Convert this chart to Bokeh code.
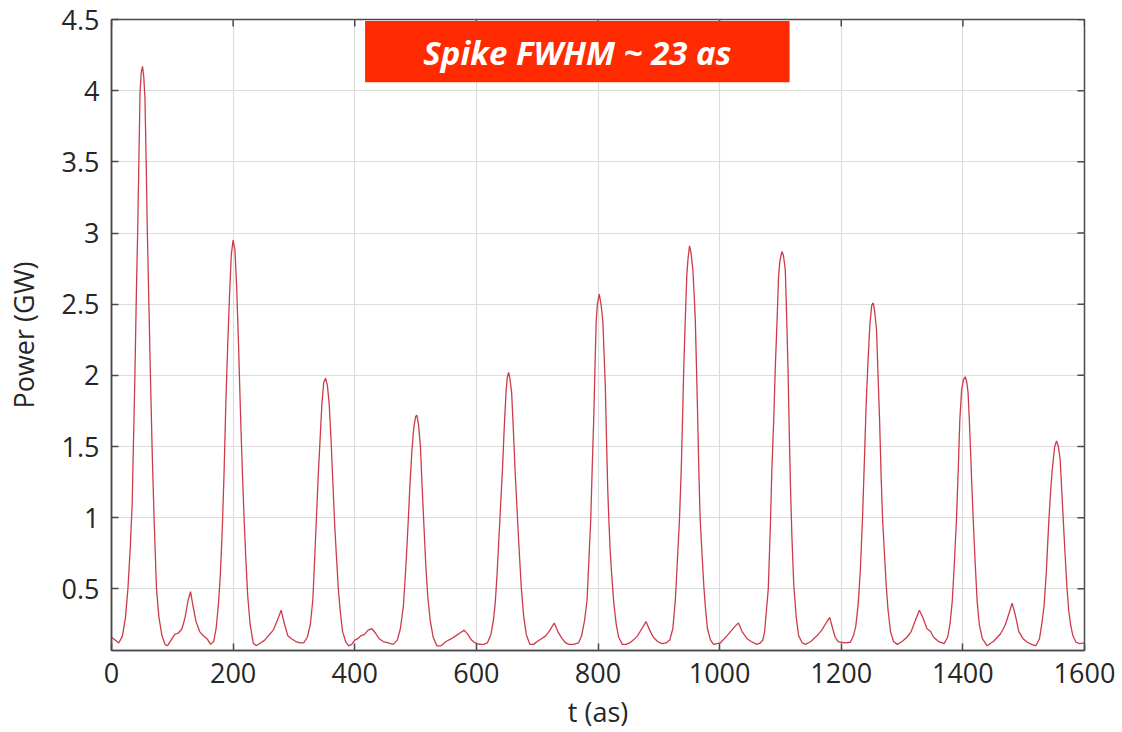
import math
from bokeh.plotting import figure
from bokeh.models import Range1d, FixedTicker, BoxAnnotation, Label
from bokeh.embed import file_html
from bokeh.resources import INLINE

# ---- data: time (as) and power (GW) ----
t_as = [
    0, 6, 12, 18, 23, 27, 31, 34, 36, 38.5, 41, 43, 45, 47, 49, 51, 53, 55, 57, 59, 61.5, 64, 67, 70, 74,
    78, 83, 88, 92, 98, 104, 110, 116, 121, 126, 130, 134, 139, 145, 151, 157, 163, 168, 172, 176, 179,
    182, 185, 188, 191, 194, 197, 200, 203, 206, 209, 212, 215, 218, 221, 224, 228, 233, 238, 245, 252, 260,
    266, 272, 279, 284, 290, 296, 303, 310, 316, 322, 327, 331, 334, 337, 340, 343, 346, 349, 352, 355,
    358, 361, 364, 367, 370, 373, 376, 380, 385, 390, 395, 400, 405, 410,
    416, 422, 428, 434, 440, 447, 455, 463, 470, 475, 480, 484, 488, 491, 494, 497, 500, 502, 505, 508,
    511, 514, 517, 520, 524, 529, 535, 542, 550, 559,
    566, 573, 580, 586, 592, 598, 605, 612, 618, 624, 628, 631, 634, 637, 640, 643, 646, 649, 651, 653,
    655, 658, 661, 664, 667, 670, 674, 678, 682, 688, 694, 700, 707,
    714, 721, 728, 734, 741, 747, 752, 760, 768, 773, 778, 782, 785, 788, 790.5, 793, 795, 797, 799, 802,
    805, 808, 810, 812, 814, 816, 818, 820, 823, 826, 830, 834, 840, 846, 852, 858, 865,
    872, 879, 885, 891, 898, 905, 912, 918, 923, 927, 930, 934, 937, 939, 941, 943.5, 946, 948, 950.5, 953,
    956, 958, 960, 962, 964, 966, 968, 971, 974, 977, 980, 985, 990, 1001, 1012,
    1020, 1026, 1031, 1037, 1045, 1052, 1061, 1067, 1071, 1074, 1077, 1080, 1083.5, 1086, 1089, 1091.5,
    1094.5, 1097, 1099, 1102.5, 1105, 1108, 1110, 1112.5, 1114.5, 1116.5, 1119, 1122, 1126, 1130, 1136,
    1141, 1150, 1160,
    1168, 1175, 1181, 1186, 1190, 1195, 1199, 1207, 1215, 1220, 1224, 1228, 1231.5, 1235, 1238.5, 1241,
    1244, 1247, 1250, 1252.5, 1255, 1258, 1260.5, 1263, 1265.5, 1268, 1271, 1274, 1277, 1281, 1286, 1292,
    1300, 1308, 1315,
    1322, 1328.5, 1334, 1341, 1347, 1352, 1360, 1369, 1375, 1379, 1382.5, 1386, 1389.5, 1392.5, 1395, 1398,
    1401, 1404, 1406.5, 1408.5, 1410.5, 1412.7, 1415, 1417, 1420, 1423.5, 1427, 1432, 1440, 1450, 1462,
    1470, 1476, 1481, 1486, 1492, 1499, 1506, 1513, 1520, 1526, 1530, 1533.5, 1537, 1541.5, 1544.5, 1547,
    1551, 1554, 1557, 1560, 1562.5, 1565, 1568, 1571, 1574, 1577.5, 1581, 1586, 1592, 1600,
]
power_gw = [
    0.16, 0.14, 0.12, 0.17, 0.30, 0.50, 0.80, 1.10, 1.50, 2.00, 2.60, 3.00, 3.50, 4.00, 4.13, 4.17, 4.10, 3.95, 3.50, 3.00, 2.50, 2.00, 1.45, 1.00, 0.50,
    0.30, 0.17, 0.11, 0.10, 0.14, 0.18, 0.19, 0.22, 0.30, 0.42, 0.48, 0.38, 0.27, 0.20, 0.17, 0.15, 0.11, 0.13, 0.22, 0.40, 0.60,
    0.90, 1.30, 1.80, 2.20, 2.55, 2.85, 2.95, 2.88, 2.60, 2.20, 1.75, 1.35, 1.00, 0.70, 0.45, 0.25, 0.12, 0.10, 0.12, 0.14, 0.18,
    0.21, 0.27, 0.35, 0.26, 0.17, 0.15, 0.13, 0.12, 0.12, 0.16, 0.25, 0.42, 0.70, 1.00, 1.30, 1.55, 1.80, 1.95, 1.98, 1.93,
    1.80, 1.55, 1.25, 0.95, 0.72, 0.50, 0.35, 0.20, 0.13, 0.10, 0.11, 0.14, 0.15, 0.17,
    0.18, 0.21, 0.22, 0.19, 0.15, 0.13, 0.12, 0.11, 0.14, 0.22, 0.38, 0.65, 0.98, 1.25, 1.47, 1.63, 1.71, 1.72, 1.65, 1.50,
    1.20, 0.92, 0.65, 0.45, 0.28, 0.16, 0.10, 0.10, 0.13, 0.15,
    0.17, 0.19, 0.21, 0.18, 0.14, 0.12, 0.11, 0.11, 0.12, 0.18, 0.28, 0.40, 0.60, 0.85, 1.10, 1.35, 1.65, 1.90, 1.99, 2.02,
    1.98, 1.88, 1.60, 1.30, 1.05, 0.80, 0.50, 0.30, 0.18, 0.11, 0.11, 0.13, 0.15,
    0.17, 0.21, 0.26, 0.20, 0.15, 0.12, 0.11, 0.11, 0.12, 0.17, 0.28, 0.42, 0.70, 0.98, 1.35, 1.70, 2.05, 2.38, 2.50, 2.57,
    2.50, 2.38, 2.15, 1.93, 1.55, 1.20, 0.97, 0.77, 0.57, 0.40, 0.25, 0.16, 0.11, 0.11, 0.12, 0.14, 0.17,
    0.22, 0.27, 0.21, 0.16, 0.13, 0.115, 0.12, 0.14, 0.22, 0.41, 0.65, 0.99, 1.35, 1.69, 2.05, 2.39, 2.70, 2.82, 2.91, 2.86,
    2.74, 2.58, 2.39, 2.05, 1.69, 1.30, 0.99, 0.75, 0.52, 0.35, 0.22, 0.14, 0.11, 0.12, 0.17,
    0.21, 0.24, 0.26, 0.20, 0.15, 0.13, 0.11, 0.12, 0.14, 0.20, 0.35, 0.50, 0.95, 1.35, 1.69, 2.05,
    2.39, 2.70, 2.80, 2.87, 2.84, 2.74, 2.45, 2.04, 1.60, 1.22, 0.85, 0.52, 0.30, 0.17, 0.12,
    0.11, 0.13, 0.17,
    0.21, 0.26, 0.30, 0.22, 0.16, 0.13, 0.125, 0.12, 0.125, 0.17, 0.24, 0.40, 0.64, 1.00, 1.46, 1.80,
    2.10, 2.35, 2.49, 2.51, 2.45, 2.32, 2.00, 1.69, 1.30, 0.99, 0.75, 0.52, 0.35, 0.20, 0.13, 0.11,
    0.13, 0.16, 0.20,
    0.28, 0.35, 0.30, 0.22, 0.20, 0.16, 0.13, 0.115, 0.16, 0.26, 0.41, 0.68, 0.99, 1.35, 1.69, 1.90,
    1.97, 1.99, 1.95, 1.88, 1.70, 1.46, 1.20, 0.99, 0.70, 0.41, 0.25, 0.15, 0.10, 0.13, 0.185,
    0.25, 0.33, 0.40, 0.32, 0.20, 0.15, 0.125, 0.11, 0.10, 0.15, 0.26, 0.38, 0.60, 0.99, 1.20, 1.34,
    1.50, 1.54, 1.50, 1.41, 1.20, 0.99, 0.75, 0.52, 0.35, 0.24, 0.17, 0.125, 0.115, 0.12,
]

x_ticks = [0, 200, 400, 600, 800, 1000, 1200, 1400, 1600]
y_ticks = [0.5, 1, 1.5, 2, 2.5, 3, 3.5, 4, 4.5]
y_tick_labels = ["0.5", "1", "1.5", "2", "2.5", "3", "3.5", "4", "4.5"]
annotation_text = "Spike FWHM ~ 23 as"
x_min, x_max = 0, 1600
y_min, y_max = 0.067, 4.5

FONT = "Open Sans"
AX = "#4a4a4a"
TXT = "#262626"

p = figure(width=1122, height=732, output_backend="svg", toolbar_location=None,
           x_range=Range1d(x_min, x_max), y_range=Range1d(y_min, y_max),
           min_border_left=111, min_border_right=38, min_border_top=19, min_border_bottom=80,
           x_axis_label="t (as)", y_axis_label="Power (GW)")
p.background_fill_color = "white"
p.border_fill_color = "white"
p.outline_line_color = AX
p.outline_line_width = 1.5

p.grid.grid_line_color = "#dcdcdc"
p.grid.grid_line_width = 1.2

p.line(t_as, power_gw, line_color="#cc3b48", line_width=1.3)

p.xaxis.ticker = FixedTicker(ticks=x_ticks)
p.yaxis.ticker = FixedTicker(ticks=y_ticks)
p.yaxis.major_label_overrides = {v: s for v, s in zip(y_ticks, y_tick_labels)}

for ax in (p.xaxis[0], p.yaxis[0]):
    ax.axis_line_color = AX
    ax.axis_line_width = 1.5
    ax.major_tick_in = 7
    ax.major_tick_out = 0
    ax.major_tick_line_color = AX
    ax.major_tick_line_width = 1.5
    ax.minor_tick_line_color = None
    ax.major_label_text_font = FONT
    ax.major_label_text_font_size = "27px"
    ax.major_label_text_color = TXT
    ax.axis_label_text_font = FONT
    ax.axis_label_text_font_size = "27px"
    ax.axis_label_text_font_style = "normal"
    ax.axis_label_text_color = TXT
p.xaxis.major_label_standoff = 12
p.xaxis.axis_label_standoff = 7
p.yaxis.major_label_standoff = 12
p.yaxis.axis_label_standoff = 17

# inward tick marks on the right and top edges of the box (half of each dash is clipped by the frame)
p.scatter([x_max] * len(y_ticks), y_ticks, marker="dash", size=14,
          line_color=AX, line_width=1.5)
p.scatter(x_ticks, [y_max] * len(x_ticks), marker="dash", size=14, angle=math.pi / 2,
          line_color=AX, line_width=1.5)

box = BoxAnnotation(left=417, right=1115, bottom=4.06, top=4.49, fill_color="#ff2a00",
                    fill_alpha=1.0, line_color=None, level="overlay")
p.add_layout(box)
lab = Label(x=766, y=4.265, text=annotation_text, text_align="center", text_baseline="middle",
            text_color="white", text_font=FONT, text_font_style="bold italic",
            text_font_size="33px", level="overlay")
p.add_layout(lab)

open("out.html", "w").write(file_html(p, INLINE))
